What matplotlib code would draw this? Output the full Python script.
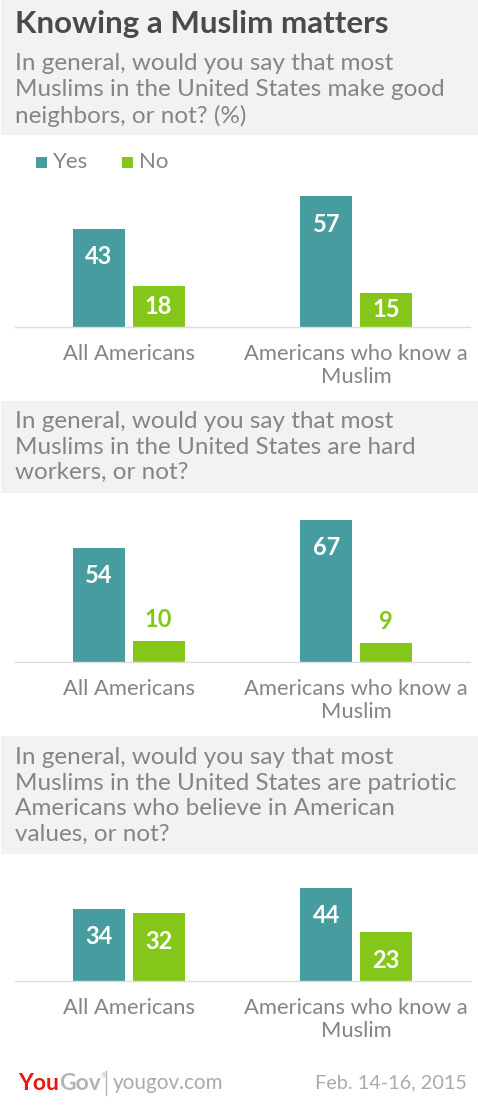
import matplotlib
matplotlib.use("Agg")
import matplotlib.pyplot as plt
from matplotlib.patches import Rectangle
from matplotlib.lines import Line2D

# data
categories = ["All Americans", "Americans who know a\nMuslim"]
series = ["Yes", "No"]
questions = [
    "In general, would you say that most\nMuslims in the United States make good\nneighbors, or not? (%)",
    "In general, would you say that most\nMuslims in the United States are hard\nworkers, or not?",
    "In general, would you say that most\nMuslims in the United States are patriotic\nAmericans who believe in American\nvalues, or not?",
]
yes_values = [[43, 57], [54, 67], [34, 44]]
no_values = [[18, 15], [10, 9], [32, 23]]

title = "Knowing a Muslim matters"
source = "yougov.com"
date_text = "Feb. 14-16, 2015"

W, H = 478, 1108
TEAL = "#469c9f"
GREEN = "#84c71a"
BOX = "#f2f2f2"
TITLE_C = "#4a4a4a"
SUB_C = "#858585"
FONT = "Lato"

plt.rcParams["font.family"] = [FONT, "DejaVu Sans"]

fig = plt.figure(figsize=(W / 100, H / 100), dpi=100)
fig.patch.set_facecolor("white")


def fx(x):
    return x / W


def fy(y):
    return 1 - y / H


def box(y0, y1):
    fig.patches.append(Rectangle((fx(1), fy(y1)), fx(W - 1), (y1 - y0) / H,
                                 transform=fig.transFigure, facecolor=BOX,
                                 edgecolor="none", zorder=0))


# header
box(0, 135)
fig.text(fx(15), fy(24), title, fontsize=22.5, fontweight="bold", color=TITLE_C, va="center")

# (box top, box bottom, first text line y, axes top, baseline y)
layout = [
    (0, 135, 62, 190, 327),
    (401, 493, 420, 510, 662),
    (736, 854, 756, 880, 981),
]
scales = [2.29, 2.12, 2.12]  # px per percentage point

for i, (b0, b1, ty, top, base) in enumerate(layout):
    if i > 0:
        box(b0, b1)
    fig.text(fx(15), fy(ty - 9), questions[i], fontsize=17.5, fontweight="normal",
             color=SUB_C, va="top", linespacing=1.27)

    ax = fig.add_axes([fx(15), fy(base), (470 - 15) / W, (base - top) / H])
    ax.set_facecolor("none")
    ymax = (base - top) / scales[i]
    ax.set_xlim(-0.5, 1.5)
    ax.set_ylim(0, ymax)
    for s in ["top", "right", "left"]:
        ax.spines[s].set_visible(False)
    ax.spines["bottom"].set_color("#dddddd")
    ax.spines["bottom"].set_linewidth(1)
    ax.set_yticks([])
    ax.set_xticks(range(len(categories)))
    ax.set_xticklabels(categories, fontsize=15.8, color=SUB_C, linespacing=1.2)
    ax.tick_params(axis="x", length=0, pad=12)

    xs = list(range(len(categories)))
    for vals, off, col in [(yes_values[i], -0.131, TEAL), (no_values[i], 0.131, GREEN)]:
        bars = ax.bar([x + off for x in xs], vals, width=0.229, color=col, zorder=2)
        for bar, v in zip(bars, vals):
            hpx = v * scales[i]
            cx = bar.get_x() + bar.get_width() / 2
            if hpx >= 45:
                dy, c = -28, "white"
            elif hpx >= 30:
                dy, c = -hpx / 2, "white"
            else:
                dy, c = 21, col
            ax.annotate(str(v), (cx, v), xytext=(0, dy), textcoords="offset pixels",
                        ha="center", va="center", fontsize=17, fontweight="bold", color=c)

# legend
for lx, lab, col in [(36, series[0], TEAL), (122, series[1], GREEN)]:
    fig.patches.append(Rectangle((fx(lx), fy(168)), fx(11), 11 / H,
                                 transform=fig.transFigure, facecolor=col, edgecolor="none"))
    fig.text(fx(lx + 17), fy(162), lab, fontsize=16, color=SUB_C, va="center")

# footer
renderer = fig.canvas.get_renderer()
t_you = fig.text(fx(18), fy(1083), "You", fontsize=16.5, fontweight="bold", color="#e8170f", va="center")
x_end = t_you.get_window_extent(renderer).x1
t_gov = fig.text(x_end / W, fy(1083), "Gov", fontsize=16.5, fontweight="bold", color="#b5b5b0",
                 va="center")
x_end = t_gov.get_window_extent(renderer).x1
fig.text(x_end / W, fy(1076), "\u00ae", fontsize=5, color="#b5b5b0", va="center")
fig.lines.append(Line2D([fx(106), fx(106)], [fy(1071), fy(1095)], transform=fig.transFigure,
                        color="#b5b5b0", linewidth=1))
fig.text(fx(113), fy(1083), source, fontsize=14.9, color="#aaaaaa", va="center")
fig.text(fx(467), fy(1083), date_text, fontsize=14.3, color="#aaaaaa",
         va="center", ha="right")

plt.savefig("out.png", dpi=100, facecolor=fig.get_facecolor())
